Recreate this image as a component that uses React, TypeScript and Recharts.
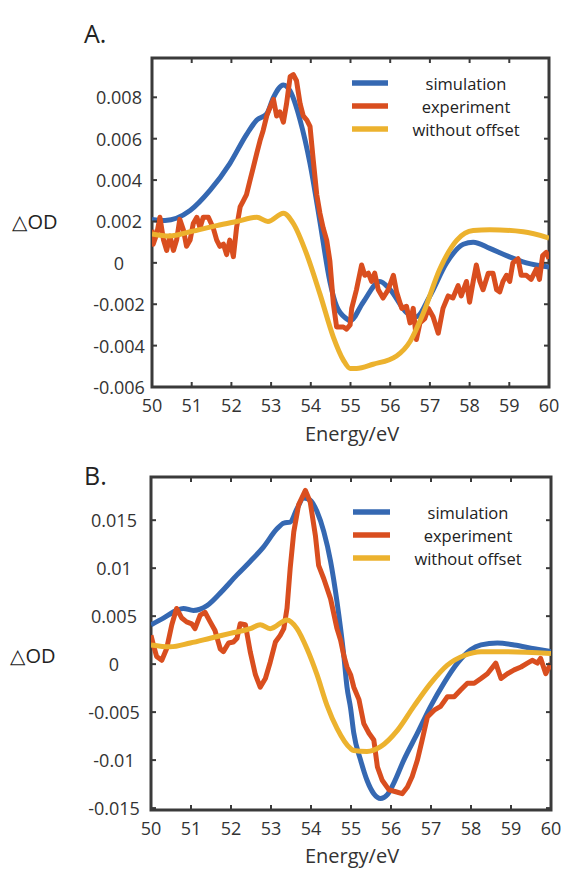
import React from 'react';
import { LineChart, Line, XAxis, YAxis, ReferenceArea } from 'recharts';

// ---------- shared ----------
const energyTicks = [50, 51, 52, 53, 54, 55, 56, 57, 58, 59, 60];

// ---------- Panel A ----------
const aYTicks = [-0.006, -0.004, -0.002, 0, 0.002, 0.004, 0.006, 0.008];
const aYLabels = ['-0.006', '-0.004', '-0.002', '0', '0.002', '0.004', '0.006', '0.008'];

const aSimE = [50, 50.33, 50.96, 51.46, 51.96, 52.38, 52.64, 52.89, 53.06, 53.31, 53.48, 53.73, 53.98, 54.23, 54.48, 54.65, 54.9, 54.99, 55.32, 55.74, 56.0, 56.41, 56.66, 57.0, 57.42, 57.84, 58.09, 58.51, 58.93, 59.43, 60];
const aSimV = [0.0021, 0.00205, 0.00253, 0.0035, 0.0048, 0.0062, 0.0069, 0.0072, 0.008, 0.0086, 0.0083, 0.0069, 0.0048, 0.002, -0.0009, -0.0021, -0.0027, -0.0028, -0.0019, -0.0009, -0.0013, -0.0024, -0.0026, -0.0016, 0.0, 0.0009, 0.001, 0.0007, 0.00035, 0.0, -0.0002];

const aExpE = [50.0, 50.03, 50.12, 50.2, 50.29, 50.37, 50.45, 50.54, 50.62, 50.7, 50.79, 50.87, 50.96, 51.04, 51.13, 51.21, 51.29, 51.42, 51.54, 51.63, 51.71, 51.8, 51.88, 51.96, 52.05, 52.13, 52.22, 52.3, 52.38, 52.47, 52.55, 52.64, 52.72, 52.8, 52.89, 52.97, 53.06, 53.14, 53.22, 53.31, 53.39, 53.48, 53.56, 53.64, 53.73, 53.81, 53.9, 53.98, 54.06, 54.15, 54.23, 54.31, 54.4, 54.48, 54.57, 54.65, 54.82, 54.9, 54.99, 55.03, 55.15, 55.28, 55.36, 55.45, 55.53, 55.61, 55.7, 55.82, 55.95, 56.08, 56.16, 56.29, 56.41, 56.5, 56.58, 56.66, 56.75, 56.87, 56.96, 57.08, 57.21, 57.33, 57.46, 57.58, 57.71, 57.79, 57.92, 58.0, 58.09, 58.17, 58.26, 58.34, 58.47, 58.59, 58.68, 58.76, 58.84, 58.93, 59.01, 59.09, 59.22, 59.3, 59.43, 59.55, 59.68, 59.76, 59.84, 59.93, 60];
const aExpV = [0.0016, 0.0009, 0.0014, 0.0022, 0.0011, 0.0006, 0.0013, 0.0006, 0.0011, 0.0021, 0.0016, 0.0008, 0.0011, 0.0019, 0.0022, 0.0017, 0.0022, 0.0022, 0.0017, 0.0011, 0.0008, 0.0009, 0.0004, 0.0011, 0.0003, 0.0017, 0.0027, 0.003, 0.0033, 0.004, 0.0046, 0.0053, 0.0059, 0.0064, 0.0071, 0.0075, 0.0079, 0.0071, 0.0073, 0.0068, 0.0077, 0.009, 0.0091, 0.0088, 0.0077, 0.0071, 0.0069, 0.0066, 0.005, 0.0033, 0.0024, 0.0017, 0.0011, 0.0001, -0.002, -0.0031, -0.0031, -0.0032, -0.003, -0.0022, -0.0013, -0.0001, -0.0006, -0.0005, -0.0009, -0.0005, -0.0013, -0.0017, -0.0013, -0.0006, -0.0014, -0.0022, -0.0021, -0.0029, -0.0022, -0.0037, -0.0029, -0.0027, -0.0022, -0.0026, -0.0034, -0.0022, -0.0016, -0.0017, -0.0011, -0.0016, -0.0009, -0.0019, -0.0009, -0.0001, -0.0009, -0.0013, -0.0005, -0.0005, -0.0013, -0.0014, -0.0009, -0.0006, -0.0009, 0.0, 0.0002, -0.0006, -0.0006, -0.0008, -0.0003, -0.0008, 0.00035, 0.0005, 0.0002];

const aOffE = [50, 50.45, 50.96, 51.63, 52.13, 52.64, 52.92, 53.31, 53.56, 53.9, 54.23, 54.57, 54.82, 54.99, 55.15, 55.57, 56.16, 56.5, 56.84, 57.25, 57.68, 58.09, 58.51, 59.35, 60];
const aOffV = [0.0014, 0.0013, 0.0015, 0.0018, 0.002, 0.0022, 0.002, 0.0024, 0.0019, 0.0004, -0.0015, -0.0036, -0.0047, -0.0051, -0.0051, -0.0049, -0.0045, -0.0038, -0.0024, -0.0003, 0.0011, 0.00156, 0.0016, 0.0015, 0.0012];

// ---------- Panel B ----------
const bYTicks = [-0.015, -0.01, -0.005, 0, 0.005, 0.01, 0.015];
const bYLabels = ['-0.015', '-0.01', '-0.005', '0', '0.005', '0.01', '0.015'];

const bSimE = [50, 50.31, 50.64, 50.81, 51.06, 51.4, 51.73, 52.15, 52.48, 52.81, 53.15, 53.32, 53.48, 53.65, 53.82, 53.98, 54.15, 54.32, 54.49, 54.65, 54.82, 54.9, 54.99, 55.07, 55.24, 55.4, 55.57, 55.74, 55.91, 56.07, 56.32, 56.66, 56.99, 57.32, 57.66, 57.99, 58.25, 58.66, 59.08, 59.58, 60];
const bSimV = [0.0041, 0.0048, 0.0056, 0.0058, 0.0056, 0.0061, 0.0074, 0.0093, 0.0107, 0.0122, 0.0141, 0.0147, 0.0148, 0.0162, 0.0173, 0.0171, 0.0159, 0.0138, 0.0107, 0.0065, 0.0009, -0.0024, -0.0046, -0.0072, -0.01, -0.0121, -0.0135, -0.014, -0.0136, -0.0124, -0.01, -0.0072, -0.0044, -0.002, 0.0001, 0.0015, 0.002, 0.0022, 0.002, 0.0016, 0.0013];

const bExpE = [50.0, 50.06, 50.14, 50.27, 50.39, 50.52, 50.64, 50.77, 50.89, 51.02, 51.1, 51.23, 51.35, 51.48, 51.6, 51.73, 51.81, 51.94, 52.06, 52.15, 52.23, 52.36, 52.48, 52.61, 52.73, 52.86, 52.98, 53.11, 53.23, 53.32, 53.4, 53.48, 53.57, 53.69, 53.86, 53.98, 54.11, 54.19, 54.32, 54.49, 54.65, 54.74, 54.82, 54.9, 54.99, 55.07, 55.2, 55.32, 55.45, 55.57, 55.66, 55.78, 55.95, 56.12, 56.28, 56.41, 56.53, 56.66, 56.78, 56.91, 57.08, 57.24, 57.41, 57.58, 57.74, 57.91, 58.08, 58.25, 58.41, 58.62, 58.75, 58.91, 59.08, 59.25, 59.41, 59.53, 59.66, 59.74, 59.87, 60];
const bExpV = [0.003, 0.002, 0.0008, 0.0004, 0.0016, 0.0041, 0.0058, 0.0048, 0.0044, 0.0042, 0.0037, 0.0051, 0.0054, 0.0044, 0.0035, 0.0016, 0.0013, 0.0022, 0.0023, 0.0027, 0.0042, 0.0041, 0.0013, -0.0011, -0.0024, -0.0015, 0.0002, 0.0023, 0.003, 0.0037, 0.0058, 0.01, 0.0138, 0.0166, 0.0181, 0.0169, 0.0134, 0.0103, 0.0089, 0.0068, 0.0037, 0.0025, 0.0009, -0.0003, -0.0011, -0.0024, -0.0037, -0.0062, -0.0072, -0.0079, -0.0107, -0.0121, -0.0131, -0.0133, -0.0135, -0.0128, -0.0117, -0.01, -0.0079, -0.0055, -0.0048, -0.0044, -0.0034, -0.0034, -0.0027, -0.002, -0.002, -0.0015, -0.001, 0.0001, -0.0015, -0.001, -0.0006, -0.0003, 0.0001, 0.0004, 0.0001, 0.0006, -0.001, 0.0001];

const bOffE = [50, 50.48, 50.98, 51.48, 51.98, 52.48, 52.73, 52.98, 53.4, 53.65, 53.9, 54.15, 54.4, 54.65, 54.99, 55.07, 55.4, 55.74, 56.16, 56.57, 56.99, 57.41, 57.83, 58.25, 58.92, 60];
const bOffV = [0.002, 0.0018, 0.0022, 0.0027, 0.0032, 0.0037, 0.0041, 0.0037, 0.0046, 0.0037, 0.0016, -0.0011, -0.0043, -0.0067, -0.0088, -0.009, -0.0091, -0.0086, -0.0069, -0.0044, -0.002, -0.0001, 0.0009, 0.0013, 0.0013, 0.0011];

const seriesNames = ['simulation', 'experiment', 'without offset'];

// ---------- styles ----------
const BLUE = '#3568b2';
const RED = '#d94e1f';
const YELLOW = '#ecb22e';
const seriesColors = [BLUE, RED, YELLOW];
const FRAME = '#3a3a3a';
const TEXT = '#333333';
const FONT = '"Open Sans", "DejaVu Sans", sans-serif';

const pts = (e: number[], v: number[]) => e.map((x, i) => ({ e: x, v: v[i] }));

const labelFor = (ticks: number[], labels: string[], v: number) => {
  const i = ticks.findIndex((t) => Math.abs(t - v) < 1e-9);
  return i >= 0 ? labels[i] : String(v);
};

type PanelProps = {
  top: number;
  height: number;
  margin: { top: number; right: number; left: number; bottom: number };
  yDomain: [number, number];
  yTicks: number[];
  yLabels: string[];
  yLabelShift: number;
  sim: { e: number; v: number }[];
  exp: { e: number; v: number }[];
  off: { e: number; v: number }[];
};

const Panel = (p: PanelProps) => {
  const W = 566;
  const plotTop = p.margin.top;
  const plotRight = W - p.margin.right;
  const XTick = (props: any) => {
    const { x, y, payload } = props;
    return (
      <g>
        <line x1={x} x2={x} y1={y} y2={y - 5} stroke={FRAME} strokeWidth={2} />
        <line x1={x} x2={x} y1={plotTop} y2={plotTop + 5} stroke={FRAME} strokeWidth={2} />
        <text x={x} y={y + 18} textAnchor="middle" dominantBaseline="central" fontFamily={FONT} fontSize={18} fill={TEXT}>
          {payload.value}
        </text>
      </g>
    );
  };
  const YTick = (props: any) => {
    const { x, y, payload } = props;
    return (
      <g>
        <line x1={x} x2={x + 5} y1={y} y2={y} stroke={FRAME} strokeWidth={2} />
        <line x1={plotRight - 5} x2={plotRight} y1={y} y2={y} stroke={FRAME} strokeWidth={2} />
        <text x={x + p.yLabelShift} y={y} textAnchor="middle" dominantBaseline="central" fontFamily={FONT} fontSize={18} fill={TEXT}>
          {labelFor(p.yTicks, p.yLabels, payload.value)}
        </text>
      </g>
    );
  };
  return (
    <div style={{ position: 'absolute', left: 0, top: p.top }}>
      <LineChart width={W} height={p.height} margin={p.margin}>
        <XAxis
          dataKey="e"
          type="number"
          domain={[50, 60]}
          ticks={energyTicks}
          interval={0}
          allowDataOverflow
          axisLine={false}
          tickLine={false}
          tickSize={0}
          tickMargin={0}
          height={30}
          tick={XTick}
        />
        <YAxis
          dataKey="v"
          type="number"
          domain={p.yDomain}
          ticks={p.yTicks}
          interval={0}
          allowDataOverflow
          axisLine={false}
          tickLine={false}
          tickSize={0}
          tickMargin={0}
          width={100}
          tick={YTick}
        />
        <Line data={p.sim} dataKey="v" type="monotone" stroke={BLUE} strokeWidth={5} dot={false} isAnimationActive={false} />
        <Line data={p.exp} dataKey="v" type="linear" stroke={RED} strokeWidth={5} strokeLinejoin="round" dot={false} isAnimationActive={false} />
        <Line data={p.off} dataKey="v" type="monotone" stroke={YELLOW} strokeWidth={5} dot={false} isAnimationActive={false} />
        <ReferenceArea x1={50} x2={60} y1={p.yDomain[0]} y2={p.yDomain[1]} fill="none" fillOpacity={0} stroke={FRAME} strokeWidth={3} />
      </LineChart>
    </div>
  );
};

const Legend = ({ x1, x2, tx, ys }: { x1: number; x2: number; tx: number; ys: number[] }) => (
  <g>
    {seriesNames.map((n, i) => (
      <g key={n}>
        <line x1={x1} x2={x2} y1={ys[i]} y2={ys[i]} stroke={seriesColors[i]} strokeWidth={5.5} />
        <text x={tx} y={ys[i]} textAnchor="middle" dominantBaseline="central" fontFamily={FONT} fontSize={16.5} fill="#222">
          {n}
        </text>
      </g>
    ))}
  </g>
);

export default function App() {
  return (
    <div style={{ position: 'absolute', left: 0, top: 0, width: 566, height: 869, background: '#fff', overflow: 'hidden' }}>
      <Panel
        top={0}
        height={430}
        margin={{ top: 58, right: 17, left: 52, bottom: 13 }}
        yDomain={[-0.006, 0.0099]}
        yTicks={aYTicks}
        yLabels={aYLabels}
        yLabelShift={-33}
        sim={pts(aSimE, aSimV)}
        exp={pts(aExpE, aExpV)}
        off={pts(aOffE, aOffV)}
      />
      <Panel
        top={440}
        height={429}
        margin={{ top: 37, right: 15, left: 51, bottom: 29 }}
        yDomain={[-0.0152, 0.0195]}
        yTicks={bYTicks}
        yLabels={bYLabels}
        yLabelShift={-37}
        sim={pts(bSimE, bSimV)}
        exp={pts(bExpE, bExpV)}
        off={pts(bOffE, bOffV)}
      />
      <svg width={566} height={869} style={{ position: 'absolute', left: 0, top: 0, pointerEvents: 'none' }}>
        <text x={84} y={43} fontFamily={FONT} fontSize={25} fill="#222">A.</text>
        <text x={84} y={485} fontFamily={FONT} fontSize={25} fill="#222">B.</text>
        <text x={12} y={221} dominantBaseline="central" fontFamily={FONT} fontSize={20} fill="#222">△OD</text>
        <text x={10} y={655} dominantBaseline="central" fontFamily={FONT} fontSize={20} fill="#222">△OD</text>
        <text x={352} y={441} textAnchor="middle" fontFamily={FONT} fontSize={20} fill={TEXT}>Energy/eV</text>
        <text x={352} y={863} textAnchor="middle" fontFamily={FONT} fontSize={20} fill={TEXT}>Energy/eV</text>
        <Legend x1={352} x2={388} tx={466} ys={[83, 106, 129]} />
        <Legend x1={353} x2={390} tx={468} ys={[512, 535, 558]} />
      </svg>
    </div>
  );
}
